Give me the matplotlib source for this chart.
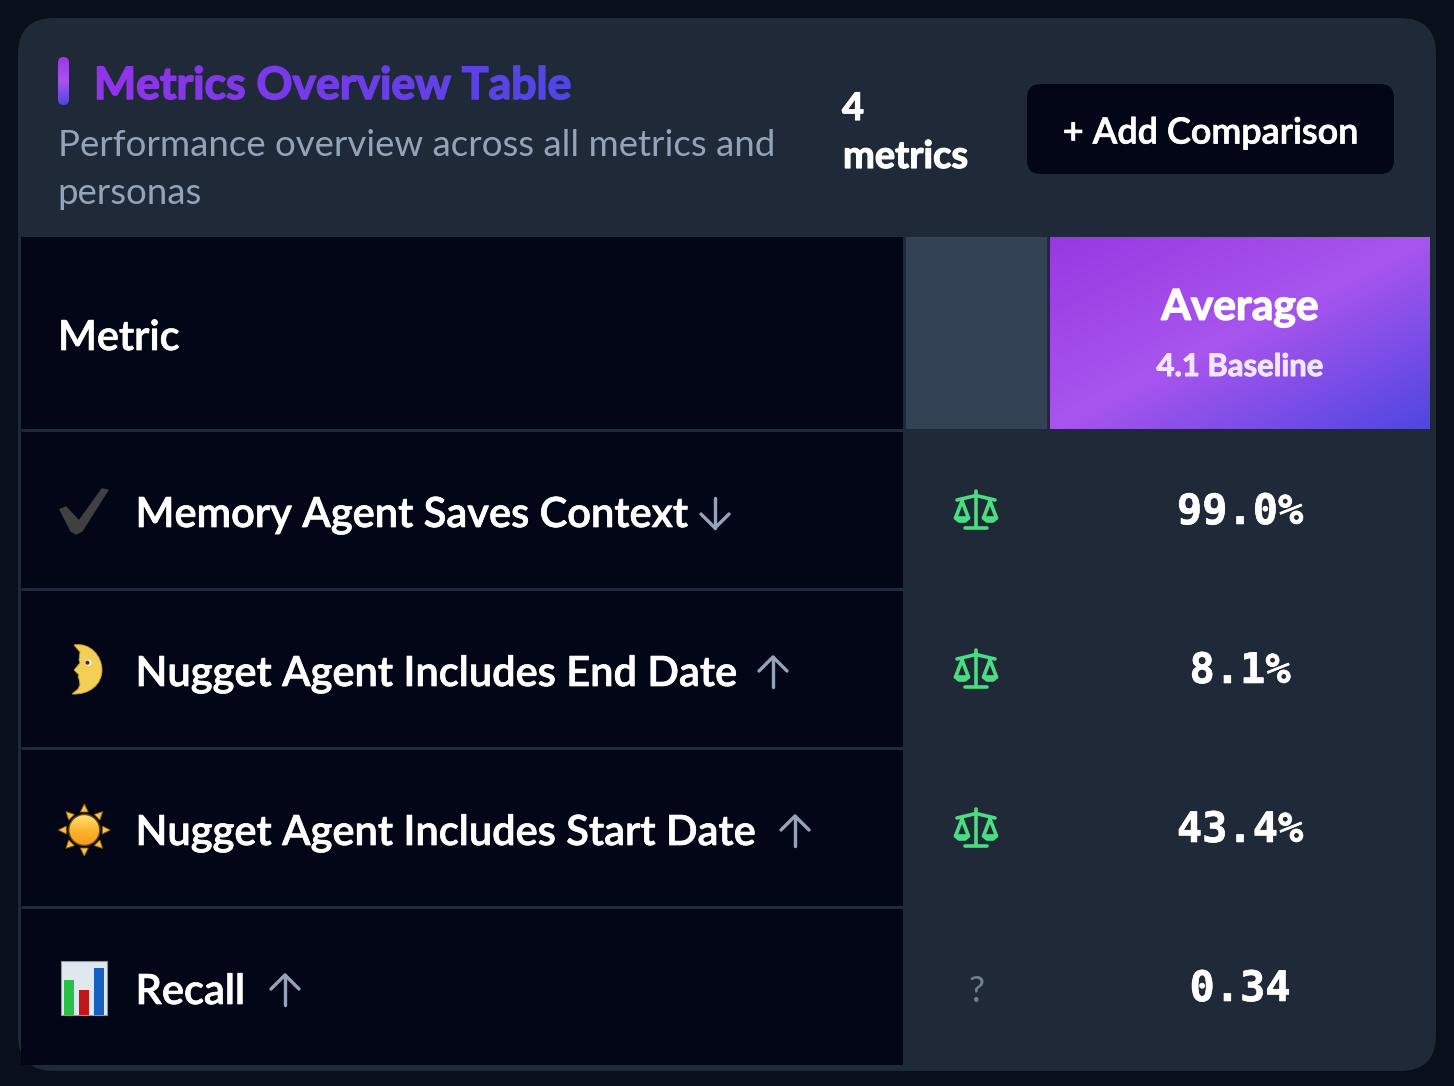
#!/usr/bin/env python3
import numpy as np
import matplotlib
matplotlib.use("Agg")
import matplotlib.pyplot as plt
import matplotlib.patheffects as pe
from matplotlib.colors import LinearSegmentedColormap
from matplotlib.patches import FancyBboxPatch, Rectangle, Polygon, Circle, PathPatch
from matplotlib.path import Path

# data
metric_names = ["Memory Agent Saves Context", "Nugget Agent Includes End Date",
                "Nugget Agent Includes Start Date", "Recall"]
metric_values = ["99.0%", "8.1%", "43.4%", "0.34"]
directions = ["down", "up", "up", "up"]
has_scale = [True, True, True, False]
title = "Metrics Overview Table"
subtitle = ["Performance overview across all metrics and", "personas"]
count_label = ["4", "metrics"]
button_label = "+ Add Comparison"
column_label = "Metric"
avg_label = "Average"
avg_sub = "4.1 Baseline"

# colours
BG = "#0a0f1c"
CARD = "#1f2937"
DARK = "#020617"
LINE = "#1e293b"
SLATE = "#334155"
GREY = "#94a3b8"
GREEN = "#4ade80"
grad = LinearSegmentedColormap.from_list("g", ["#9739e2", "#a855ee", "#4f46e0"])
title_grad = LinearSegmentedColormap.from_list("t", ["#9333ea", "#4f46e5"])

FONT = "Lato"
MONO = "DejaVu Sans Mono"


def px(size):
    return size * 0.72


def thick(width, color="white"):
    # Lato has no medium weight here, a thin outline gets close
    return [pe.withStroke(linewidth=px(width), foreground=color)]


fig = plt.figure(figsize=(14.54, 10.86), dpi=100, facecolor=BG)
ax = fig.add_axes([0, 0, 1, 1])
ax.set_axis_off()


def corner_gradient(w, h):
    # linear-gradient(to bottom right, ...)
    xx, yy = np.meshgrid(np.linspace(0, 1, int(w)), np.linspace(0, 1, int(h)))
    return (xx + yy) / 2


def title_filter(img, dpi):
    out = img.copy()
    t = np.linspace(0, 1, img.shape[1])
    out[:, :, :3] = title_grad(t)[:, :3][None, :, :]
    return out, 0, 0


# card
ax.add_patch(FancyBboxPatch((18 + 36, 18 + 36), 1418 - 72, 1053 - 72,
                            boxstyle="round,pad=36,rounding_size=36", fc=CARD, ec="none"))

# header bits
bar = ax.imshow(np.linspace(0, 1, 48)[:, None], cmap=grad, extent=(58, 69, 105, 57), aspect="auto", zorder=2)
bar_clip = FancyBboxPatch((58 + 5.5, 57 + 5.5), 0, 37, boxstyle="round,pad=5.5,rounding_size=5.5",
                          fc="none", ec="none", transform=ax.transData)
ax.add_patch(bar_clip)
bar.set_clip_path(bar_clip)

title_text = ax.text(94, 86, title, fontsize=px(44.6), fontweight="bold", family=FONT,
                     color="#7c3aed", va="center", ha="left", zorder=3, path_effects=thick(1.6, "#7c3aed"))
title_text.set_agg_filter(title_filter)
ax.text(57.5, 145, subtitle[0], fontsize=px(36.6), family=FONT, color=GREY, va="center")
ax.text(57.5, 194, subtitle[1], fontsize=px(36.6), family=FONT, color=GREY, va="center")
ax.text(842, 109, count_label[0], fontsize=px(38), family=FONT, fontweight="bold", color="white", va="center",
        path_effects=thick(1.2))
ax.text(843, 157, count_label[1], fontsize=px(38), family=FONT, fontweight="bold", color="white", va="center",
        path_effects=thick(1.2))

ax.add_patch(FancyBboxPatch((1027 + 14, 84 + 14), 367 - 28, 90 - 28,
                            boxstyle="round,pad=14,rounding_size=14", fc=DARK, ec="none"))
ax.text(1210.5, 133, button_label, fontsize=px(36), family=FONT, fontweight="semibold",
        color="white", ha="center", va="center", path_effects=thick(0.7))

# table
ax.add_patch(Rectangle((21, 237), 882, 828, fc=DARK, ec="none", zorder=1))
ax.add_patch(Rectangle((906, 237), 141, 192, fc=SLATE, ec="none", zorder=1))
ax.imshow(corner_gradient(380, 192), cmap=grad, extent=(1050, 1430, 429, 237), aspect="auto", zorder=1)
for y in [430, 589, 748, 907]:
    ax.plot([21, 903], [y, y], color=LINE, lw=px(3), solid_capstyle="butt", zorder=2)

ax.text(58, 338, column_label, fontsize=px(41.5), family=FONT, fontweight="semibold", color="white", va="center",
        path_effects=thick(0.7))
ax.text(1240, 308, avg_label, fontsize=px(42.5), family=FONT, fontweight="bold", color="white", ha="center", va="center",
        path_effects=thick(1.4))
ax.text(1240, 367, avg_sub, fontsize=px(31), family=FONT, fontweight="bold", color="#f0e6fd", ha="center", va="center",
        path_effects=thick(1.0, "#f0e6fd"))


def draw_arrow(x, y0, y1, up):
    tip, tail = (y0, y1) if up else (y1, y0)
    sign = 1 if up else -1
    ax.plot([x, x], [tip, tail], color=GREY, lw=px(3.4), solid_capstyle="round", zorder=3)
    ax.plot([x - 14, x, x + 14], [tip + sign * 14, tip, tip + sign * 14], color=GREY, lw=px(3.4),
            solid_capstyle="round", solid_joinstyle="round", zorder=3)


def draw_scale(cy):
    dy = cy - 510
    kw = dict(color=GREEN, lw=px(3.6), solid_capstyle="round", solid_joinstyle="round", zorder=3)
    ax.plot([976, 976], [491 + dy, 527 + dy], **kw)
    ax.plot([965, 987], [527.5 + dy, 527.5 + dy], **kw)
    ax.plot([957, 976, 995], [500 + dy, 495.5 + dy, 500 + dy], **kw)
    for cx in (962, 990):
        ax.plot([cx, cx - 6.5, cx + 6.5, cx], [501 + dy, 518 + dy, 518 + dy, 501 + dy], **kw)
        ax.plot(np.array([cx - 6.5, cx - 3, cx + 3, cx + 6.5]), np.array([518, 521, 521, 518]) + dy, **kw)


def draw_check():
    pts = [(60, 509.5), (66, 507), (79, 521), (102, 489), (108, 490), (82, 531), (76, 534), (71, 531)]
    ax.add_patch(Polygon(pts, closed=True, fc="#404040", ec="#404040", lw=1, joinstyle="round", zorder=3))


def draw_moon():
    verts = [(74, 645), (90, 642), (102, 656), (102, 670), (102, 684), (90, 695), (72, 694),
             (78, 689), (80, 685), (79, 679), (78, 677), (79, 675), (75, 671), (74, 670),
             (80, 663), (79, 660), (80, 652), (74, 645)]
    codes = [Path.MOVETO] + [Path.CURVE4] * 6 + [Path.LINETO] * 11
    ax.add_patch(PathPatch(Path(verts, codes), fc="#f4cf55", ec="#c79a2e", lw=0.6, zorder=3))
    ax.add_patch(Circle((88.5, 662.7), 3.2, fc="#f3efe4", ec="none", zorder=4))
    ax.add_patch(Circle((87.5, 662.7), 2, fc="#3a3028", ec="none", zorder=5))


def draw_sun():
    cx, cy = 84.3, 830
    for k in range(8):
        a = k * np.pi / 4
        d = np.array([np.cos(a), np.sin(a)])
        n = np.array([-d[1], d[0]])
        c = np.array([cx, cy])
        ax.add_patch(Polygon([c + d * 26, c + d * 18 + n * 4, c + d * 18 - n * 4], closed=True,
                             fc="#f8c344", ec="#8a5a12", lw=0.6, zorder=3))
    sun = ax.imshow(np.linspace(0, 1, 32)[:, None], extent=(cx - 16, cx + 16, cy + 16, cy - 16), aspect="auto",
                    cmap=LinearSegmentedColormap.from_list("s", ["#fde27a", "#fdb52f", "#f99a1c"]), zorder=4)
    disc = Circle((cx, cy), 15.5, fc="none", ec="#6b4210", lw=1, zorder=5)
    ax.add_patch(disc)
    sun.set_clip_path(disc)


def draw_bars():
    ax.add_patch(Rectangle((61.3, 961.3), 45.4, 53.7, fc="#dfe7ef", ec="#8c96a3", lw=0.8, zorder=3))
    for x, top, col in [(64, 980, "#2abf45"), (79, 990, "#c01818"), (94, 968, "#1560c0")]:
        ax.add_patch(Rectangle((x, top), 10, 1015 - top, fc=col, ec="none", zorder=4))


icons = [draw_check, draw_moon, draw_sun, draw_bars]
row_y = [510, 669, 828, 987]
arrow_x = [715, 773, 795, 285]

for i, name in enumerate(metric_names):
    y = row_y[i]
    icons[i]()
    ax.text(135.5, y + 5, name, fontsize=px(41.6), family=FONT, fontweight="semibold", color="white", va="center", zorder=3,
            path_effects=thick(0.7))
    draw_arrow(arrow_x[i], y - 12, y + 18, directions[i] == "up")
    if has_scale[i]:
        draw_scale(y)
    else:
        ax.text(977, y + 4, "?", fontsize=px(36), family=FONT, color="#74808f", ha="center", va="center", zorder=3)
    ax.text(1240, y + 2, metric_values[i], fontsize=px(42), family=MONO, fontweight="bold", color="white",
            ha="center", va="center", zorder=3, path_effects=thick(0.6))

ax.set_xlim(0, 1454)
ax.set_ylim(1086, 0)
fig.savefig("out.png", dpi=100, facecolor=BG)
